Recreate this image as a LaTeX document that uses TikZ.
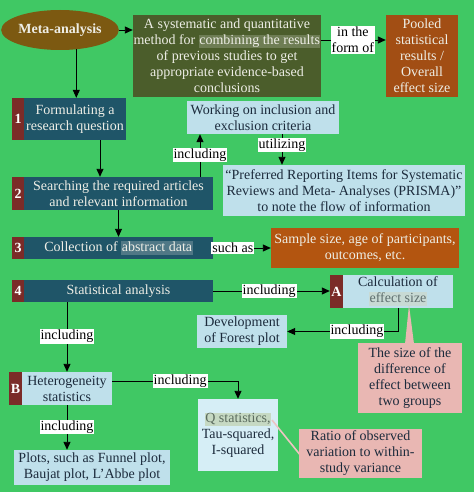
\documentclass[tikz,border=0pt]{standalone}
\usepackage{fontspec}
\setmainfont{Liberation Serif}
\usetikzlibrary{arrows.meta,shapes.geometric}
\definecolor{bg}{RGB}{64,200,100}
\definecolor{ellbrown}{RGB}{124,89,17}
\definecolor{olivebox}{RGB}{75,93,43}
\definecolor{olivehl}{RGB}{110,125,84}
\definecolor{pooledc}{RGB}{162,78,20}
\definecolor{samplec}{RGB}{179,85,16}
\definecolor{tealbox}{RGB}{31,85,104}
\definecolor{tealhl}{RGB}{80,120,134}
\definecolor{numred}{RGB}{123,43,40}
\definecolor{lblue}{RGB}{191,224,235}
\definecolor{qblue}{RGB}{214,238,246}
\definecolor{pinkc}{RGB}{233,183,179}
\definecolor{calhl}{RGB}{200,218,212}
\definecolor{calhltext}{RGB}{94,110,110}
\definecolor{qhl}{RGB}{198,217,195}
\definecolor{qhltext}{RGB}{91,107,94}
\definecolor{dtext}{RGB}{28,43,60}
\definecolor{wtext}{RGB}{238,238,230}
\newcommand\myhl[2]{{\setlength\fboxsep{0.5pt}\colorbox{#1}{\rule[-3pt]{0pt}{12pt}#2}}}
\begin{document}
\begin{tikzpicture}[x=1pt,y=-1pt,
  font=\fontsize{14}{16}\selectfont,
  box/.style={rectangle, inner sep=0pt, align=center, text=dtext},
  darkbox/.style={box, text=wtext},
  numbox/.style={rectangle, inner sep=0pt, fill=numred, text=white, font=\fontsize{14}{16}\selectfont\bfseries},
  lbl/.style={fill=white, inner xsep=1pt, inner ysep=1pt, text=black, align=center},
  arr/.style={-{Triangle[length=8pt,width=7pt]}, line width=0.9pt, black}]
\fill[bg] (0,0) rectangle (474,492);
\useasboundingbox (0,0) rectangle (474,492);

% top row
\node[ellipse, fill=ellbrown, text=wtext, inner sep=0pt, minimum width=100pt, minimum height=40pt, font=\fontsize{14}{16}\selectfont\bfseries] (meta) at (60,30) {Meta-analysis};
\node[darkbox, fill=olivebox, minimum width=188pt, minimum height=82pt] (def) at (227,56)
  {A systematic and quantitative\\method for \myhl{olivehl}{combining the results}\\of previous studies to get\\appropriate evidence-based\\conclusions};
\node[darkbox, fill=pooledc, minimum width=72pt, minimum height=82pt] (pooled) at (422,56)
  {Pooled\\statistical\\results /\\Overall\\effect size};
\draw[arr] (meta.east) -- (meta.east -| def.west);
\draw[arr] ([yshift=16pt]def.east) -- node[lbl, pos=0.49] (form) {in the\\form of} ([yshift=16pt]pooled.west);

% step 1
\node[darkbox, fill=tealbox, minimum width=102pt, minimum height=42pt] (s1) at (75,119) {Formulating a\\research question};
\node[numbox, minimum width=12pt, minimum height=42pt] (n1) at (18,119) {1};
\draw[arr] (meta.-50) -- (meta.-50 |- s1.north);

% step 2
\node[darkbox, fill=tealbox, minimum width=189pt, minimum height=33pt] (s2) at (118.5,193.5) {Searching the required articles\\and relevant information};
\node[numbox, minimum width=12pt, minimum height=33pt] (n2) at (18,193.5) {2};
\draw[arr] ([xshift=25pt]s1.south) -- ([xshift=25pt]s1.south |- s2.north);

\node[box, fill=lblue, minimum width=152pt, minimum height=33pt] (work) at (263,117.5) {Working on inclusion and\\exclusion criteria};
\node[box, fill=lblue, minimum width=242pt, minimum height=51pt] (prisma) at (344,190.5)
  {“Preferred Reporting Items for Systematic\\Reviews and Meta- Analyses (PRISMA)”\\to note the flow of information};
\draw[arr] ([xshift=81.5pt]s2.north) -- node[lbl, pos=0.51] (inc1) {including} ([xshift=81.5pt]s2.north |- work.south);
\draw[arr] ([xshift=19pt]work.south) -- node[lbl, pos=0.35] (util) {utilizing} ([xshift=19pt]work.south |- prisma.north);

% step 3
\node[darkbox, fill=tealbox, minimum width=189pt, minimum height=22pt] (s3) at (118.5,248) {Collection of \myhl{tealhl}{abstract data}};
\node[numbox, minimum width=12pt, minimum height=22pt] (n3) at (18,248) {3};
\draw[arr] (s2.south) -- (s2.south |- s3.north);
\node[darkbox, fill=samplec, minimum width=188pt, minimum height=40pt] (sample) at (365,248) {Sample size, age of participants,\\outcomes, etc.};
\draw[arr] (s3.east) -- node[lbl, pos=0.34] (such) {such as} (s3.east -| sample.west);

% step 4
\node[darkbox, fill=tealbox, minimum width=189pt, minimum height=22pt] (s4) at (118.5,291) {Statistical analysis};
\node[numbox, minimum width=12pt, minimum height=22pt] (n4) at (18,291) {4};

% A
\node[box, fill=lblue, minimum width=110pt, minimum height=33pt] (calc) at (398,291.5) {Calculation of\\\textcolor{calhltext}{\myhl{calhl}{effect size}}};
\node[numbox, minimum width=13pt, minimum height=33pt] (nA) at (336.5,291.5) {A};
\draw[arr] (s4.east) -- node[lbl, pos=0.48] (inc2) {including} (s4.east -| nA.west);

\node[box, fill=lblue, minimum width=90pt, minimum height=33pt] (forest) at (242,331.5) {Development\\of Forest plot};
\draw[arr] (calc.south) |- node[lbl, pos=0.685] (inc3) {including} (forest.east);

\fill[pinkc] (409,305) -- (414,344) -- (405,344) -- cycle;
\node[box, fill=pinkc, minimum width=104pt, minimum height=70pt] (pink1) at (410,378) {The size of the\\difference of\\effect between\\two groups};

% B
\node[box, fill=lblue, minimum width=90pt, minimum height=33pt] (het) at (67,388.5) {Heterogeneity\\statistics};
\node[numbox, minimum width=13pt, minimum height=33pt] (nB) at (15.5,388.5) {B};
\draw[arr] (het.north |- s4.south) -- node[lbl, pos=0.49] (inc4) {including} (het.north);

\node[box, fill=qblue, minimum width=80pt, minimum height=72pt] (q) at (238,435) {\textcolor{qhltext}{\myhl{qhl}{Q statistics,}}\\Tau-squared,\\I-squared};
\draw[arr] ([yshift=7.5pt]het.east) -| node[lbl, pos=0.27] (inc5) {including} (q.north);

\draw[pinkc!80!white, line width=1.6pt] (272,420) -- (301,456);
\node[box, fill=pinkc, minimum width=123pt, minimum height=49pt] (pink2) at (360.5,453.5) {Ratio of observed\\variation to within-\\study variance};

\node[box, fill=lblue, minimum width=156pt, minimum height=35pt] (plots) at (92,467.5) {Plots, such as Funnel plot,\\Baujat plot, L’Abbe plot};
\draw[arr] (het.south) -- node[lbl, pos=0.49] (inc6) {including} (het.south |- plots.north);
\end{tikzpicture}
\end{document}
